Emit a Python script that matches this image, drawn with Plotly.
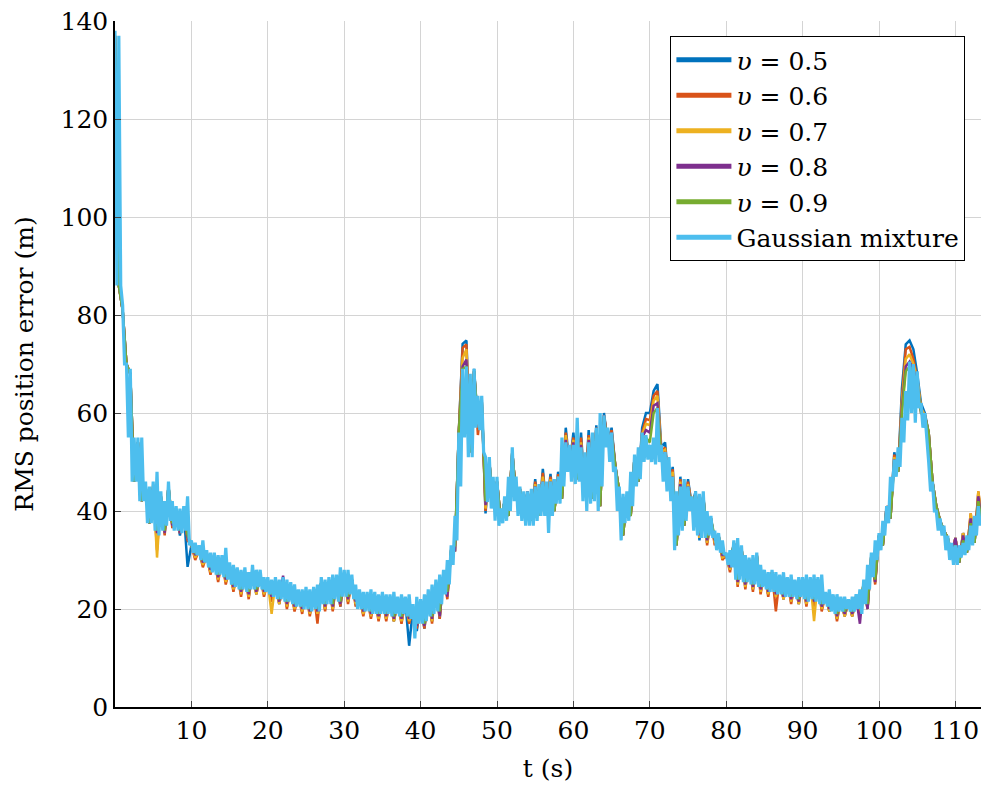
import numpy as np
import plotly.graph_objects as go

# ---------------- data ----------------
# Gaussian mixture: samples every 0.5 s (hi at t, lo at t+0.25)
gm_hi = [138, 137, 82, 70, 69, 55, 55, 55, 46, 45,
         46, 48, 44, 42, 46, 42, 41, 40.5, 41, 43,
         34, 33.5, 33, 34, 32, 31.5, 31.5, 31, 31, 32.5,
         29.5, 29, 28.5, 28, 28.5, 27.5, 29, 28, 28, 26.5,
         26.5, 26, 26.5, 26, 26.5, 26, 25.5, 25, 24, 24,
         24.5, 24, 24.5, 25, 26.5, 26, 26.5, 27, 27, 28.5,
         28, 28, 27, 25, 24, 23.5, 23.5, 24, 23.5, 23,
         23.5, 23, 23, 23.5, 22.5, 23, 22.5, 23, 21, 22.5,
         22, 23, 24, 25, 26, 27, 28, 30, 33, 39,
         56, 69, 69.5, 68, 69, 63.5, 63.5, 51, 51, 47,
         47, 40.5, 43, 47, 53, 47, 45, 44, 44, 44.5,
         45, 45.5, 46, 46, 46, 46.5, 47, 55, 54, 53.5,
         53.5, 59, 53, 52, 54, 56, 57, 60, 59.5, 57,
         56, 49, 45, 43.5, 44, 48, 51.5, 53, 56, 55.5,
         53.5, 55, 61, 53.5, 52, 51, 47, 44, 45, 46.5,
         45, 43, 44, 43.5, 44, 40, 39, 36, 35.5, 34,
         31.5, 32, 34, 34.5, 33, 31, 30.5, 31, 31.5, 29,
         28, 27.5, 28, 27.5, 27, 27.5, 26.5, 27, 26, 26.5,
         26.5, 27, 26.5, 27, 26.5, 27, 23.5, 24, 23, 23,
         22.5, 22.5, 22, 22.5, 23, 24, 26, 29, 31.5, 34,
         35.5, 38, 41, 47, 50.5, 53, 59, 64.5, 70.5, 70,
         68.5, 62, 60, 50, 46, 40, 38.5, 37, 35, 33.5,
         33, 33, 33.5, 35, 37, 39, 41]
gm_lo = [86, 86, 70, 55, 46, 46, 42, 42, 37.5, 37.5,
         36, 35, 36, 37, 38, 36, 36, 35.5, 36, 33,
         31.5, 31, 30, 29.5, 28.5, 27.5, 27, 27, 26.5, 26,
         25, 24.5, 24, 24, 23.5, 24, 24, 24.5, 24, 23.5,
         23, 22.5, 22, 22, 21.5, 21.5, 21, 20.5, 20.5, 20,
         20, 19.5, 20, 19.5, 21, 21, 21, 22, 21.5, 22.5,
         22.5, 23, 22, 20, 20, 19.5, 19.5, 19, 19, 19,
         19, 19, 18.5, 19, 18.5, 19, 18.5, 18, 14, 17,
         17, 17.5, 18.5, 19, 19.5, 21, 23, 25, 29, 34,
         45, 55, 51, 51, 57, 56.5, 52, 41.8, 40.5, 38,
         37, 37.5, 38, 40, 42, 39, 38, 37, 37, 37,
         38, 39, 39, 35.5, 39, 41.5, 41.5, 45, 48, 46,
         45.5, 46, 42, 40, 41.5, 42, 40, 45, 53, 50,
         48, 40, 34, 37.5, 38, 41, 45, 46.5, 50, 50.5,
         50, 49.5, 50, 46, 44, 42, 32, 35, 36, 38,
         40, 36, 35, 34.5, 34.5, 35, 34.5, 32, 31.5, 31,
         29, 28.5, 26, 26, 25.5, 25.5, 25, 25, 24.5, 24.5,
         24, 23.5, 23.5, 23, 23, 22.5, 22.5, 22.5, 22, 22.5,
         22, 21.5, 22, 21.5, 21, 21, 20.5, 19.5, 19, 19.5,
         19.5, 20, 19.5, 19.5, 20, 19, 21, 24, 26.5, 30,
         32, 35, 37.5, 44, 47, 49, 54, 58.5, 60, 58,
         61, 57, 55, 44, 40, 36, 35, 32, 30, 29,
         29, 30.5, 31, 32, 33, 35, 37]

# v-series: samples every 1 s (hi at t, lo at t+0.5)
v05_hi = [137, 81, 68, 54, 45, 45, 43, 45, 40, 40,
          33, 32, 31, 30.5, 30, 28.5, 27.5, 27.5, 28, 27,
          25.5, 25.5, 25.5, 24.5, 23, 23.5, 23.5, 25.5, 25.5, 26,
          27, 26, 23, 22.5, 22.5, 22.5, 22, 21.5, 21.5, 20,
          21, 23, 25, 27, 32, 56, 74.8, 69, 63, 50,
          46, 42, 52, 44.5, 44, 46.5, 48.6, 47.6, 48, 57,
          56, 56, 56.5, 57.5, 60, 57, 44, 43, 51, 57,
          60, 65.9, 54, 49, 47, 46.5, 44, 43.5, 38.5, 35,
          31, 33.5, 32.5, 30, 31, 27.5, 27.5, 26.5, 26, 25.5,
          26, 26, 26, 23, 22.5, 22, 21.5, 22.5, 25.5, 31,
          35, 41, 52, 65, 74.8, 68, 60, 46, 38, 34.5,
          34.5, 35.5, 39, 43.5]
v05_lo = [86, 70, 46, 42, 37.5, 35.5, 35.5, 37, 35, 28.6,
          30.5, 29, 27.5, 26, 25.5, 24, 23, 22.5, 23, 23,
          22, 21, 20.5, 20, 19.5, 19, 19, 20, 20, 20.5,
          21.5, 21, 19, 18.5, 18, 18, 17.5, 17.5, 12.5, 15.5,
          16, 17.5, 18, 23, 32, 74.1, 52, 58, 39.5, 41,
          38, 39, 43, 39, 38, 39, 40, 40, 42.5, 49,
          46.5, 43, 42.5, 41, 54, 49, 35, 39, 46, 60,
          64.5, 53, 45, 33, 37, 41, 34, 33.5, 33.5, 30.5,
          28, 25, 24.5, 24, 23.5, 23, 22.5, 22, 21.5, 21,
          21, 21, 20, 19.5, 18, 18.5, 18.5, 19, 20, 25.5,
          33, 38.5, 48, 74, 73, 62, 56, 41, 36, 31,
          29.5, 31.5, 33.5, 37.5]

v06_hi = [137, 81, 68, 54, 45, 45, 43, 45, 40, 40,
          33, 32, 31, 30.5, 30, 28.5, 27.5, 27.5, 28, 27,
          25.5, 25.5, 25.5, 24.5, 23, 23.5, 23.5, 25.5, 25.5, 26,
          27, 26, 23, 22.5, 22.5, 22.5, 22, 21.5, 21.5, 20,
          21, 23, 25, 27, 32, 56, 74, 68.5, 62.5, 50,
          46, 42, 52, 44.5, 44, 46, 47.8, 47, 47.5, 56,
          55, 55, 55.5, 57, 59.5, 56.5, 44, 43, 51, 56,
          58.5, 64.5, 53, 48.5, 46.5, 46, 43.5, 43, 38.5, 35,
          31, 33.5, 32.5, 30, 31, 27.5, 27.5, 26.5, 26, 25.5,
          26, 26, 26, 23, 22.5, 22, 21.5, 22.5, 25.5, 31,
          35, 41, 51.5, 63, 73.5, 67, 59.5, 46, 38, 34.5,
          34.5, 35.5, 39.5, 44]
v06_lo = [86, 70, 46, 42, 37.5, 32, 35, 36.5, 35.5, 34,
          30, 28.5, 27, 25.5, 25, 23.5, 22.5, 22, 23, 22.5,
          21.5, 21, 20, 19.5, 19, 18.5, 17, 19.5, 19.5, 20.5,
          21, 20.5, 18.5, 18, 17.5, 17.5, 17.5, 17, 17, 16,
          16, 17, 18, 22, 32, 73.3, 52, 55.5, 40, 41,
          38, 39, 43, 39, 38, 39, 40, 40, 42.5, 49,
          46.5, 43, 42.5, 41, 54, 49, 35, 39, 46, 58.8,
          63.5, 52, 45, 33, 37, 41, 34.5, 33, 33, 30,
          27.5, 24.5, 24, 23.5, 23, 22.5, 19.5, 22, 21, 21,
          20.5, 20.5, 19.5, 19.5, 17.5, 18.5, 18.5, 18.5, 20, 25,
          33, 38.5, 48, 73, 71, 61, 56, 41, 36, 31,
          29.5, 31.5, 33.5, 37.5]

v07_hi = [137, 81, 68, 54, 45, 45.5, 43, 45, 40, 40,
          33, 32, 31, 30.5, 30, 28.5, 27.5, 27.5, 28, 27,
          25.5, 25.5, 25.5, 24.5, 23, 23.5, 23.5, 25.5, 25.5, 26.5,
          27, 26, 23, 22.5, 22.5, 22.5, 22, 21.5, 21.5, 20,
          21, 23, 25, 27, 32, 56, 73, 68.5, 62.5, 50,
          46, 42, 52, 44.5, 44, 45.5, 47, 46.5, 47, 55.5,
          54.5, 54, 55, 57, 59.5, 56, 44, 43, 51, 55.5,
          57.5, 63.5, 52.5, 48, 46, 45.5, 43.5, 43, 38.5, 35,
          31, 33.5, 32.5, 30, 31, 27.5, 27.5, 26.5, 26, 25.5,
          26, 26, 26, 23, 22.5, 22, 21.5, 22.5, 25.5, 31,
          35, 41, 51, 62, 72, 67, 59.5, 46, 38, 34.5,
          34.5, 35.5, 39.5, 44]
v07_lo = [86, 70, 46, 42, 37.5, 30.5, 35.5, 37, 35.5, 34.5,
          30.5, 29, 27.5, 26, 25.5, 24, 23, 22.5, 23, 23,
          19, 21, 20.5, 20, 19.5, 19, 19, 20, 20, 21,
          21.5, 21, 19, 18.5, 18, 18, 17.5, 17.5, 17.5, 16.5,
          16.5, 17.5, 18.5, 22.5, 32, 71.2, 52, 58, 40.5, 41,
          38, 39, 43, 39, 38, 39, 40, 40, 42.5, 49,
          46.5, 43, 42.5, 41, 54, 49, 35, 39, 46, 57.8,
          62.5, 52, 45, 33, 37, 41, 34.5, 33.5, 33.5, 30.5,
          28, 25, 24.5, 24, 23.5, 23, 22.5, 22, 21.5, 21,
          21, 17.5, 20, 19.5, 18, 18.5, 18.5, 19, 20, 25.5,
          33, 38.5, 48, 71, 70, 61, 56, 41, 36, 31,
          29.5, 31.5, 33.5, 37.5]

v08_hi = [137, 81, 68, 54, 45, 45, 43, 45, 40, 40,
          33, 32, 31, 30.5, 30, 28.5, 27.5, 27.5, 28, 27,
          25.5, 25.5, 26.8, 24.5, 23, 23.5, 23.5, 25.5, 25.5, 26,
          27, 26, 23, 22.5, 22.5, 22.5, 22, 21.5, 21.5, 20,
          21, 23, 25, 27, 32, 56, 70.9, 68.5, 62.5, 50,
          46, 42, 52, 44.5, 44, 45, 46, 46, 46.5, 54.5,
          54, 53.5, 54.5, 57, 59.5, 56, 44, 43, 51, 55,
          56, 62, 52, 47, 45.5, 45, 43.5, 43, 38.5, 35,
          31, 33.5, 32.5, 30, 31, 27.5, 27.5, 26.5, 26, 25.5,
          26, 26, 26, 23, 22.5, 22, 21.5, 22.5, 25.5, 31,
          35, 41, 50.5, 61, 70.5, 66, 59.5, 46, 38, 34.5,
          34.5, 35, 38.5, 43]
v08_lo = [86, 70, 46, 42, 37.5, 35.5, 35.5, 37, 35.5, 34.5,
          31, 29.5, 28, 26.5, 26, 24.5, 23.5, 23, 23.5, 23.5,
          22.5, 21.5, 21, 20.5, 20, 19.5, 19.5, 20.5, 20.5, 21,
          22, 21.5, 19.5, 19, 18.5, 18.5, 18, 18, 18, 16.5,
          16.5, 18, 18.5, 22.5, 32, 69.5, 52, 58, 41.2, 41,
          38, 39, 43, 39, 38, 39, 40, 40, 42.5, 49,
          46.5, 43, 42.5, 41, 54, 49, 35, 39, 46, 56.5,
          61.5, 51, 45, 33, 37, 41, 35, 34, 34, 31,
          28.5, 25.5, 25, 24.5, 24, 23.5, 23, 22.5, 22, 21.5,
          21.5, 21.5, 20.5, 20, 18.5, 19, 19, 17, 20, 25.5,
          33, 38.5, 48, 69.5, 69, 60, 56, 41, 36, 31,
          29.5, 31.5, 33.5, 37.5]

v09_hi = [137, 81, 68, 54, 45, 45, 43, 45, 40, 40,
          33, 32, 31, 30.5, 30, 28.5, 27.5, 27.5, 28, 27,
          25.5, 25.5, 25.5, 24.5, 23, 23.5, 23.5, 25.5, 25.5, 26,
          27, 26, 23, 22.5, 22.5, 22.5, 22, 21.5, 21.5, 20,
          21, 23, 25, 27, 32, 56, 69.5, 68.5, 62.5, 50,
          46, 42, 52, 44.5, 43.5, 44.5, 45.5, 45.5, 46, 53.5,
          53, 52.5, 53.5, 56.5, 59, 55.5, 44, 43, 51, 55,
          54, 61, 51.5, 46.5, 45, 44.5, 43.5, 43, 38.5, 35,
          31, 33.5, 32.5, 30, 31, 27.5, 27.5, 26.5, 26, 25.5,
          26, 26, 26, 23, 22.5, 22, 21.5, 22.5, 25.5, 31,
          35, 40.5, 50, 60, 69.5, 66, 59.5, 46, 38, 34.5,
          33, 34, 37.5, 42]
v09_lo = [86, 70, 46, 42, 37.5, 36, 36, 37.5, 36, 35,
          31.5, 30, 28.5, 27, 26.5, 25, 24, 23.5, 24, 24,
          23, 22, 21.5, 21, 20.5, 20, 20, 21, 21, 21.5,
          22.5, 22, 20, 19.5, 19, 19, 18.5, 18.5, 18.5, 17,
          17, 18.5, 19.5, 23.5, 33, 69, 52, 58, 42, 41,
          38, 39, 43, 39, 38, 39, 40, 40, 42.5, 49,
          46.5, 43, 42.5, 41, 54, 49, 35, 39, 46, 55,
          60, 51, 45, 33, 37, 41, 35.5, 34.5, 34.5, 31.5,
          29, 26, 25.5, 25, 24.5, 24, 23.5, 23, 22.5, 22,
          22, 22, 21, 20.5, 19, 19.5, 19.5, 20, 21, 26,
          33, 38.5, 48, 68.5, 68, 60, 56, 41, 36, 31,
          29.5, 31.5, 33.5, 37.5]

series_names = ["<i>υ</i> = 0.5", "<i>υ</i> = 0.6", "<i>υ</i> = 0.7",
                "<i>υ</i> = 0.8", "<i>υ</i> = 0.9", "Gaussian mixture"]
colors = ["#0072BD", "#D95319", "#EDB120", "#7E2F8E", "#77AC30", "#4DBEEE"]
widths = [2.5, 2.5, 2.5, 2.5, 2.5, 3.2]

x_ticks = [10, 20, 30, 40, 50, 60, 70, 80, 90, 100, 110]
y_ticks = [0, 20, 40, 60, 80, 100, 120, 140]


def interleave(hi, lo, step):
    n = min(len(hi), len(lo))
    t = np.arange(n) * step
    x = np.empty(2 * n)
    y = np.empty(2 * n)
    x[0::2] = t
    x[1::2] = t + step / 2
    y[0::2] = hi[:n]
    y[1::2] = lo[:n]
    return x, y


series = [(v05_hi, v05_lo, 1.0), (v06_hi, v06_lo, 1.0), (v07_hi, v07_lo, 1.0),
          (v08_hi, v08_lo, 1.0), (v09_hi, v09_lo, 1.0), (gm_hi, gm_lo, 0.5)]

FONT = "DejaVu Serif"
FS = 25
fig = go.Figure()
for (hi, lo, step), name, col, w in zip(series, series_names, colors, widths):
    x, y = interleave(hi, lo, step)
    fig.add_trace(go.Scatter(x=x, y=y, mode="lines", name=name,
                             line=dict(color=col, width=w, simplify=False),
                             showlegend=False, hoverinfo="skip"))
# legend entries (thicker sample lines)
for name, col in zip(series_names, colors):
    fig.add_trace(go.Scatter(x=[None], y=[None], mode="lines", name=name,
                             line=dict(color=col, width=5)))

fig.update_layout(
    width=981, height=787,
    margin=dict(l=115, r=0, t=21, b=80),
    paper_bgcolor="white", plot_bgcolor="white",
    font=dict(family=FONT, size=FS, color="#000000"),
    showlegend=True,
    legend=dict(x=0.982, y=0.978, xanchor="right", yanchor="top",
                bgcolor="white", bordercolor="#000000", borderwidth=1,
                font=dict(family=FONT, size=FS), tracegroupgap=0,
                itemwidth=55),
)
fig.update_xaxes(range=[0, 113.35], tickvals=x_ticks, ticktext=[str(v) for v in x_ticks],
                 showgrid=True, gridcolor="#d4d4d4", gridwidth=1,
                 showline=True, linecolor="#000000", linewidth=1.5, mirror=False,
                 ticks="inside", ticklen=6, tickcolor="#444444", zeroline=False,
                 title=dict(text="t (s)", font=dict(family=FONT, size=FS), standoff=16),
                 tickfont=dict(family=FONT, size=FS))
fig.update_yaxes(range=[0, 140], tickvals=y_ticks, ticktext=[str(v) for v in y_ticks],
                 showgrid=True, gridcolor="#d4d4d4", gridwidth=1,
                 showline=True, linecolor="#000000", linewidth=1.5, mirror=False,
                 ticks="inside", ticklen=6, tickcolor="#444444", zeroline=False,
                 title=dict(text="RMS position error (m)", font=dict(family=FONT, size=FS), standoff=20),
                 tickfont=dict(family=FONT, size=FS))

fig.write_html("out.html", config={"displayModeBar": False},
               post_script="document.body.style.margin='0px';document.body.style.overflow='hidden';")
